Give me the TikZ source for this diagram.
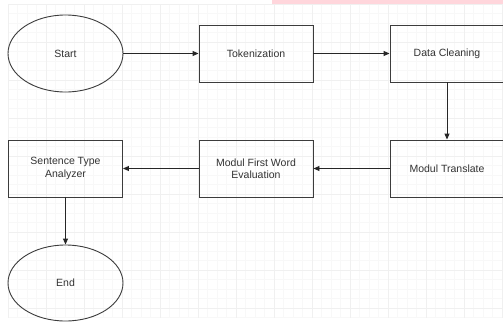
\documentclass[tikz,border=0pt]{standalone}
\usepackage{fontspec}
\setmainfont{Liberation Sans}
\usetikzlibrary{shapes.geometric,arrows.meta}
\definecolor{gridminor}{RGB}{248,248,248}
\definecolor{gridmajor}{RGB}{240,240,240}
\definecolor{edge}{RGB}{60,60,60}
\definecolor{pinkbar}{RGB}{255,214,220}
\tikzset{
  stepbox/.style={draw=edge, line width=0.9pt, rectangle, minimum width=114pt, minimum height=57pt, align=center, inner sep=0pt, font=\fontsize{10.5}{12.5}\selectfont, text=black!80},
  termin/.style={draw=edge, line width=0.9pt, ellipse, minimum width=115pt, minimum height=77pt, inner sep=0pt, font=\fontsize{10.5}{12.5}\selectfont, text=black!80},
  flow/.style={draw=black!85, line width=0.9pt, -{Triangle[length=6pt,width=5pt]}}
}
\begin{document}
\begin{tikzpicture}[x=1pt,y=-1pt]
\useasboundingbox (0,0) rectangle (503,322);
\fill[white] (0,0) rectangle (503,322);
\begin{scope}
\clip (8,4) rectangle (503,318);
\foreach \i in {0,...,53} \draw[gridminor, line width=0.5pt] (8+\i*9.5,4) -- (8+\i*9.5,318);
\foreach \j in {0,...,34} \draw[gridminor, line width=0.5pt] (8,4+\j*9.5) -- (503,4+\j*9.5);
\foreach \i in {0,...,13} \draw[gridmajor, line width=0.6pt] (8+\i*38,4) -- (8+\i*38,318);
\foreach \j in {0,...,9} \draw[gridmajor, line width=0.6pt] (8,4+\j*38) -- (503,4+\j*38);
\end{scope}
\fill[pinkbar] (272,0) rectangle (503,4);
\begin{scope}
\clip (0,0) rectangle (503,322);
\node[termin] (start) at (65.5,53.5) {Start};
\node[stepbox] (tok) at (256,53.5) {Tokenization};
\node[stepbox] (clean) at (447,53.5) {Data Cleaning};
\node[stepbox] (trans) at (447,168.5) {Modul Translate};
\node[stepbox] (first) at (256,168.5) {Modul First Word\\Evaluation};
\node[stepbox] (sent) at (65.5,168.5) {Sentence Type\\Analyzer};
\node[termin, minimum height=76pt] (end) at (65.5,283) {End};
\end{scope}
\draw[flow] (start) -- (tok);
\draw[flow] (tok) -- (clean);
\draw[flow] (clean) -- (trans);
\draw[flow] (trans) -- (first);
\draw[flow] (first) -- (sent);
\draw[flow] (sent) -- (end);
\end{tikzpicture}
\end{document}
